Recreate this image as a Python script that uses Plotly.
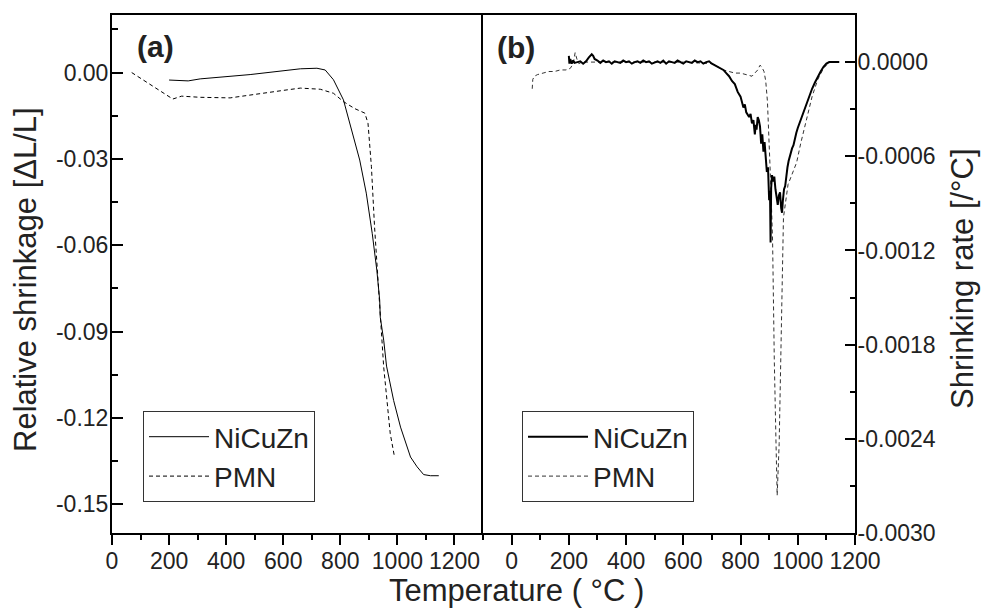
import plotly.graph_objects as go

# ---------------- Panel (a): relative shrinkage ----------------
a_nicuzn_T = [200, 267, 309, 484, 660, 718, 747, 776, 811, 833, 857, 868, 891, 912, 928,
              938, 940, 952, 962, 987, 1011, 1046, 1069, 1092, 1116, 1145]
a_nicuzn_v = [-0.0026, -0.0029, -0.0022, -0.0007, 0.0013, 0.0015, 0.0009, -0.0025, -0.0095,
              -0.0175, -0.0259, -0.0304, -0.0419, -0.0560, -0.0687, -0.0791, -0.0850, -0.0930,
              -0.1020, -0.1140, -0.1232, -0.1336, -0.1370, -0.1397, -0.1401, -0.1401]

a_pmn_T = [69, 213, 244, 309, 414, 500, 600, 660, 730, 776, 811, 850, 886, 897, 909, 920,
           934, 940, 952, 975, 990]
a_pmn_v = [0.0, -0.0092, -0.0082, -0.0086, -0.0088, -0.0075, -0.0062, -0.0054, -0.0058,
           -0.0072, -0.0101, -0.0125, -0.0141, -0.0176, -0.0327, -0.0536, -0.0733, -0.0850,
           -0.1023, -0.1255, -0.1336]

# ---------------- Panel (b): shrinking rate ----------------
b_nicuzn_T = [200, 202, 205, 210, 215, 220, 230, 240, 250, 260, 270, 280, 285, 290, 300,
              310, 320, 330, 340, 350, 360, 370, 380, 390, 400, 410, 420, 430, 440, 450,
              460, 470, 480, 490, 500, 510, 520, 530, 540, 550, 560, 570, 580, 590, 600,
              610, 620, 630, 640, 650, 660, 670, 680, 690, 700, 710, 720, 730, 740, 750,
              760, 770, 780, 790, 800, 810, 815, 820, 830, 835, 840, 845, 850, 853, 856,
              860, 864, 868, 872, 876, 880, 884, 888, 892, 896, 900, 903, 905, 907, 910,
              914, 918, 922, 926, 930, 934, 938, 942, 945, 948, 952, 956, 960, 964, 968,
              972, 976, 980, 985, 990, 995, 1000, 1008, 1016, 1024, 1032, 1040, 1050, 1060,
              1070, 1080, 1090, 1100, 1110, 1120, 1130, 1140, 1145]
b_nicuzn_v = [0.00004, -0.00001, 0.00002, -0.00001, 0.00001, -0.000005, 0.0, 0.000005, -0.00001,
              0.000005, 0.00003, 0.00005, 0.00004, 0.00002, 0.00001, -0.000005, 0.00001, 0.0,
              0.000005, -0.00001, 0.000005, 0.0, -0.000005, 0.00001, 0.0, 0.000005, -0.00001,
              0.0, 0.000005, -0.000005, 0.00001, 0.0, 0.000005, -0.00001, 0.0, 0.000005, -0.000005,
              0.00001, -0.00001, 0.000005, 0.0, -0.000005, 0.00001, 0.0, -0.00001, 0.000005, 0.0,
              -0.000005, 0.00001, 0.0, 0.000005, -0.00001, 0.0, 0.000005, -0.00001, -0.00002, -0.00003,
              -0.00004, -0.00005, -0.00007, -0.00009, -0.00012, -0.00014, -0.00019, -0.00022,
              -0.00029, -0.00027, -0.00032, -0.00035, -0.00033, -0.00039, -0.00037, -0.00046,
              -0.00040, -0.00043, -0.00035, -0.00037, -0.00041, -0.00052, -0.00046, -0.00057,
              -0.00051, -0.00061, -0.00070, -0.00067, -0.00088, -0.00082, -0.00115, -0.00080,
              -0.00072, -0.00076, -0.00073, -0.00081, -0.00087, -0.00091, -0.00085, -0.00083,
              -0.00093, -0.00096, -0.00088, -0.00081, -0.00079, -0.00072, -0.00067, -0.00063,
              -0.00060, -0.00058, -0.00055, -0.00053, -0.00048, -0.00045, -0.00042, -0.00038,
              -0.00033, -0.00030, -0.00026, -0.00022, -0.00017, -0.00013, -0.00009, -0.00006,
              -0.00003, -0.00001, 0.0, 0.0, 0.0, 0.0, 0.0]

b_pmn_T = [72, 74, 80, 90, 110, 130, 150, 170, 190, 205, 215, 222, 228, 235, 245, 300, 400,
           500, 600, 700, 720, 740, 760, 780, 800, 820, 840, 850, 860, 868, 874, 882, 888,
           894, 900, 906, 912, 914, 918, 924, 928, 935, 944, 946, 950, 966, 996, 1010, 1030,
           1050, 1070, 1090, 1110, 1140]
b_pmn_v = [-0.00017, -0.00011, -0.00009, -0.00008, -0.00007, -0.00006, -0.00006, -0.00005,
           -0.00005, -0.00004, -0.00001, 0.00006, 0.00002, -0.00001, 0.0, 0.0, 0.0, 0.0, 0.0,
           -0.00001, -0.00003, -0.00005, -0.00006, -0.00007, -0.00007, -0.00008, -0.00009,
           -0.00007, -0.00005, -0.00002, -0.00003, -0.00006, -0.00012, -0.00025, -0.00050,
           -0.00080, -0.00114, -0.00152, -0.00190, -0.00243, -0.00276, -0.00243, -0.00152,
           -0.00120, -0.00099, -0.00078, -0.00064, -0.00052, -0.00037, -0.00022, -0.00011,
           -0.00004, 0.0, 0.0]

# tick labels
xa_tickvals = [0, 200, 400, 600, 800, 1000, 1200]
xa_ticktext = ["0", "200", "400", "600", "800", "1000", "1200"]
ya_tickvals = [0.0, -0.03, -0.06, -0.09, -0.12, -0.15]
ya_ticktext = ["0.00", "-0.03", "-0.06", "-0.09", "-0.12", "-0.15"]
yb_tickvals = [0.0, -0.0006, -0.0012, -0.0018, -0.0024, -0.0030]
yb_ticktext = ["0.0000", "-0.0006", "-0.0012", "-0.0018", "-0.0024", "-0.0030"]

FONT = "Liberation Sans, Arial, sans-serif"
DASH = "4px,3px"
TXT = "#222"

fig = go.Figure()
fig.add_trace(go.Scatter(x=a_nicuzn_T, y=a_nicuzn_v, mode="lines", name="NiCuZn",
                         line=dict(color="black", width=1), xaxis="x", yaxis="y",
                         legend="legend"))
fig.add_trace(go.Scatter(x=a_pmn_T, y=a_pmn_v, mode="lines", name="PMN",
                         line=dict(color="black", width=1, dash=DASH), xaxis="x", yaxis="y",
                         legend="legend"))
fig.add_trace(go.Scatter(x=b_pmn_T, y=b_pmn_v, mode="lines", name="PMN",
                         line=dict(color="#333", width=1, dash=DASH), xaxis="x2", yaxis="y2",
                         legend="legend2", legendrank=2))
fig.add_trace(go.Scatter(x=b_nicuzn_T, y=b_nicuzn_v, mode="lines", name="NiCuZn",
                         line=dict(color="black", width=2), xaxis="x2", yaxis="y2",
                         legend="legend2", legendrank=1))

split = 371 / 743
axis_common = dict(showline=True, linecolor="black", linewidth=2,
                   showgrid=False, zeroline=False,
                   tickfont=dict(family=FONT, size=23, color=TXT),
                   tickcolor="black", tickwidth=1.5)

fig.update_layout(
    width=982, height=611,
    margin=dict(l=112, r=127, t=15, b=78),
    paper_bgcolor="white", plot_bgcolor="white",
    font=dict(family=FONT, color=TXT),
    xaxis=dict(domain=[0, split], range=[0, 1300], anchor="y", mirror=True,
               tickvals=xa_tickvals, ticktext=xa_ticktext,
               ticks="outside", ticklen=10, ticklabelstandoff=-4,
               minor=dict(dtick=100, tick0=0, ticks="outside", ticklen=5,
                          tickcolor="black", tickwidth=1.5),
               **axis_common),
    yaxis=dict(range=[-0.16, 0.02], anchor="x", side="left", mirror=False,
               tickvals=ya_tickvals, ticktext=ya_ticktext,
               ticks="inside", ticklen=11, ticklabelstandoff=-3,
               minor=dict(dtick=0.015, tick0=0, ticks="inside", ticklen=6,
                          tickcolor="black", tickwidth=1.5),
               **axis_common),
    xaxis2=dict(domain=[split, 1], range=[-100, 1200], anchor="y2", mirror=True,
                tickvals=xa_tickvals, ticktext=xa_ticktext,
                ticks="outside", ticklen=10, ticklabelstandoff=-4,
                minor=dict(dtick=100, tick0=0, ticks="outside", ticklen=5,
                           tickcolor="black", tickwidth=1.5),
                **axis_common),
    yaxis2=dict(range=[-0.0030, 0.0003], anchor="x2", side="right", mirror=True,
                tickvals=yb_tickvals, ticktext=yb_ticktext,
                ticks="inside", ticklen=10, ticklabelstandoff=-4,
                minor=dict(dtick=0.0003, tick0=0, ticks="inside", ticklen=5,
                           tickcolor="black", tickwidth=1.5),
                **axis_common),
    legend=dict(x=(143 - 112) / 743, y=(533 - 411) / 518, xanchor="left", yanchor="top",
                bordercolor="#333", borderwidth=1, bgcolor="white",
                font=dict(family=FONT, size=28, color=TXT), itemwidth=60,
                tracegroupgap=0),
    legend2=dict(x=(522 - 112) / 743, y=(533 - 411) / 518, xanchor="left", yanchor="top",
                 bordercolor="#333", borderwidth=1, bgcolor="white",
                 font=dict(family=FONT, size=28, color=TXT), itemwidth=60,
                 traceorder="normal", tracegroupgap=0),
    annotations=[
        dict(text="<b>(a)</b>", x=81, y=0.0089, xref="x", yref="y", showarrow=False,
             xanchor="left", yanchor="middle", font=dict(family=FONT, size=30, color=TXT)),
        dict(text="<b>(b)</b>", x=-59, y=0.0000906, xref="x2", yref="y2", showarrow=False,
             xanchor="left", yanchor="middle", font=dict(family=FONT, size=30, color=TXT)),
        dict(text="Temperature ( \u00b0C )", x=(516 - 112) / 743, y=-57 / 518,
             xref="paper", yref="paper", showarrow=False, xanchor="center",
             yanchor="middle", font=dict(family=FONT, size=31, color=TXT)),
        dict(text="Relative shrinkage [\u0394L/L]", x=-(112 - 25) / 743, y=(533 - 280) / 518,
             xref="paper", yref="paper", showarrow=False, xanchor="center",
             yanchor="middle", textangle=-90, font=dict(family=FONT, size=31, color=TXT)),
        dict(text="Shrinking rate [/\u00b0C]", x=(962 - 112) / 743, y=(533 - 279) / 518,
             xref="paper", yref="paper", showarrow=False, xanchor="center",
             yanchor="middle", textangle=-90, font=dict(family=FONT, size=31, color=TXT)),
    ],
)

fig.write_html("out.html", config={"displayModeBar": False},
               post_script="document.body.style.margin='0px';")
